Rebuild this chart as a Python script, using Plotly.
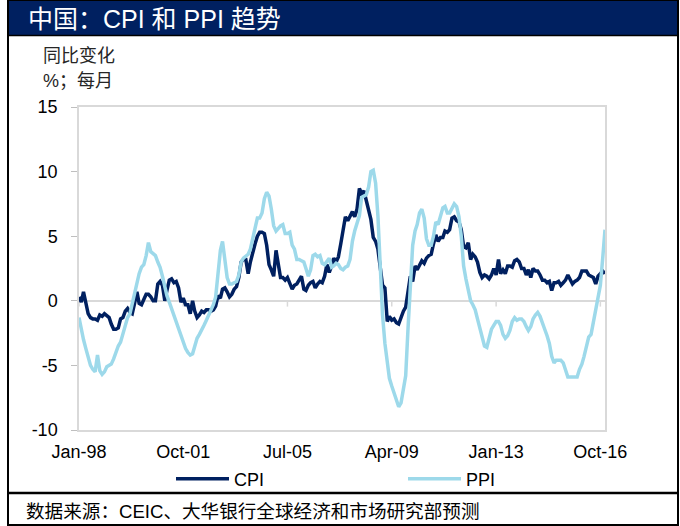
import pandas as pd
import plotly.graph_objects as go

# ---------------- data (year-on-year %, monthly, Jan-98 .. Dec-16) ----------------
months = pd.date_range("1998-01-01", "2016-12-01", freq="MS")

cpi = [
    0.3, -0.1, 0.7, -0.3, -1.0, -1.3, -1.4, -1.4, -1.5, -1.1, -1.2, -1.0,   # 1998
    -1.2, -1.3, -1.8, -2.2, -2.2, -2.1, -1.4, -1.3, -0.8, -0.6, -0.9, -1.0,  # 1999
    -0.2, 0.7, -0.2, -0.3, 0.1, 0.5, 0.5, 0.3, 0.0, 0.0, 1.3, 1.5,          # 2000
    1.2, 0.0, 0.8, 1.6, 1.7, 1.4, 1.5, 1.0, -0.1, 0.2, -0.3, -0.3,          # 2001
    -1.0, 0.0, -0.8, -1.3, -1.1, -0.8, -0.9, -0.7, -0.7, -0.8, -0.7, -0.4,  # 2002
    0.4, 0.2, 0.9, 1.0, 0.7, 0.3, 0.5, 0.9, 1.1, 1.8, 3.0, 3.2,             # 2003
    3.2, 2.1, 3.0, 3.8, 4.4, 5.0, 5.3, 5.3, 5.2, 4.3, 2.8, 2.4,             # 2004
    1.9, 3.9, 2.7, 1.8, 1.8, 1.6, 1.8, 1.3, 0.9, 1.2, 1.3, 1.6,             # 2005
    1.9, 0.9, 0.8, 1.2, 1.4, 1.5, 1.0, 1.3, 1.5, 1.4, 1.9, 2.8,             # 2006
    2.2, 2.7, 3.3, 3.0, 3.4, 4.4, 5.6, 6.5, 6.2, 6.5, 6.9, 6.5,             # 2007
    7.1, 8.7, 8.3, 8.5, 7.7, 7.1, 6.3, 4.9, 4.6, 4.0, 2.4, 1.2,             # 2008
    1.0, -1.6, -1.2, -1.5, -1.4, -1.7, -1.8, -1.2, -0.8, -0.5, 0.6, 1.9,    # 2009
    1.5, 2.7, 2.4, 2.8, 3.1, 2.9, 3.3, 3.5, 3.6, 4.4, 5.1, 4.6,             # 2010
    4.9, 4.9, 5.4, 5.3, 5.5, 6.4, 6.5, 6.2, 6.1, 5.5, 4.2, 4.1,             # 2011
    4.5, 3.2, 3.6, 3.4, 3.0, 2.2, 1.8, 2.0, 1.9, 1.7, 2.0, 2.5,             # 2012
    2.0, 3.2, 2.1, 2.4, 2.1, 2.7, 2.7, 2.6, 3.1, 3.2, 3.0, 2.5,             # 2013
    2.5, 2.0, 2.4, 1.8, 2.5, 2.3, 2.3, 2.0, 1.6, 1.6, 1.4, 1.5,             # 2014
    0.8, 1.4, 1.4, 1.5, 1.2, 1.4, 1.6, 2.0, 1.6, 1.3, 1.5, 1.6,             # 2015
    1.8, 2.3, 2.3, 2.3, 2.0, 1.9, 1.8, 1.3, 1.9, 2.1, 2.3, 2.1,             # 2016
]

ppi = [
    -1.3, -2.3, -3.0, -3.7, -4.4, -5.0, -5.3, -5.5, -4.2, -5.4, -5.7, -5.5,  # 1998
    -5.1, -5.0, -4.9, -4.5, -3.9, -3.5, -3.2, -2.5, -1.8, -1.3, -1.0, -0.2,  # 1999
    0.5, 1.3, 2.1, 2.6, 2.8, 3.5, 4.5, 3.8, 3.6, 3.5, 3.0, 2.6,             # 2000
    1.9, 1.0, 0.4, -0.1, -0.6, -1.1, -1.6, -2.2, -2.8, -3.3, -3.7, -4.0,    # 2001
    -4.2, -4.1, -3.6, -2.9, -2.6, -2.3, -1.9, -1.5, -1.1, -0.7, -0.3, 0.3,  # 2002
    2.4, 3.9, 4.6, 3.3, 1.8, 1.3, 1.3, 1.4, 1.5, 2.0, 3.0, 3.3,             # 2003
    3.5, 3.6, 4.0, 5.0, 5.6, 6.4, 6.4, 6.8, 7.9, 8.4, 8.1, 7.1,             # 2004
    5.8, 5.4, 5.6, 5.8, 5.9, 5.2, 5.2, 5.3, 4.3, 4.0, 3.2, 3.2,             # 2005
    3.1, 3.0, 2.5, 1.9, 2.4, 3.5, 3.6, 3.4, 3.5, 2.9, 2.8, 3.1,             # 2006
    3.3, 2.6, 2.7, 2.9, 2.8, 2.5, 2.4, 2.6, 2.7, 3.2, 4.6, 5.4,             # 2007
    6.1, 6.6, 8.0, 8.1, 8.2, 8.8, 10.0, 10.1, 9.1, 6.6, 2.0, -1.1,          # 2008
    -3.3, -4.5, -6.0, -6.6, -7.2, -7.8, -8.2, -7.9, -7.0, -5.8, -2.1, 1.7,  # 2009
    4.3, 5.4, 5.9, 6.8, 7.1, 6.4, 4.8, 4.3, 4.3, 5.0, 6.1, 5.9,             # 2010
    6.6, 7.2, 7.3, 6.8, 6.8, 7.1, 7.5, 7.3, 6.5, 5.0, 2.7, 1.7,             # 2011
    0.7, 0.0, -0.3, -0.7, -1.4, -2.1, -2.9, -3.5, -3.6, -2.8, -2.2, -1.9,   # 2012
    -1.6, -1.6, -1.9, -2.6, -2.9, -2.7, -2.3, -1.6, -1.3, -1.5, -1.4, -1.4, # 2013
    -1.6, -2.0, -2.3, -2.0, -1.4, -1.1, -0.9, -1.2, -1.8, -2.2, -2.7, -3.3, # 2014
    -4.3, -4.8, -4.6, -4.6, -4.6, -4.8, -5.4, -5.9, -5.9, -5.9, -5.9, -5.9, # 2015
    -5.3, -4.9, -4.3, -3.4, -2.8, -2.6, -1.7, -0.8, 0.1, 1.2, 3.3, 5.5,     # 2016
]

tick_dates = ["1998-01-01", "2001-10-01", "2005-07-01", "2009-04-01", "2013-01-01", "2016-10-01"]
tick_labels = ["Jan-98", "Oct-01", "Jul-05", "Apr-09", "Jan-13", "Oct-16"]
y_ticks = [-10, -5, 0, 5, 10, 15]
y_tick_labels = ["-10", "-5", "0", "5", "10", "15"]

title_text = "中国：CPI 和 PPI 趋势"
unit_line1 = "同比变化"
unit_line2 = "%；每月"
source_text = "数据来源：CEIC、大华银行全球经济和市场研究部预测"

# ---------------- layout geometry ----------------
W, H = 680, 526
PL, PR, PT, PB = 79, 605, 107, 430  # plot area in pixels


def fx(px):
    return (px - PL) / (PR - PL)


def fy(py):
    return (PB - py) / (PB - PT)


FONT = "Liberation Sans, Arial, Noto Sans CJK SC, sans-serif"
NAVY = "#002060"
LIGHT = "#9DD9EA"
GRID = "#D9D9D9"

fig = go.Figure()
fig.add_trace(go.Scatter(x=months, y=cpi, name="CPI", mode="lines",
                         line=dict(color=NAVY, width=3.5)))
fig.add_trace(go.Scatter(x=months, y=ppi, name="PPI", mode="lines",
                         line=dict(color=LIGHT, width=3.5)))

shapes = []
# small tick marks on the zero line at the labelled dates
for d in tick_dates:
    shapes.append(dict(type="line", xref="x", yref="y", x0=d, x1=d, y0=0, y1=-0.45,
                       line=dict(color=GRID, width=1.5), layer="below"))
# title bar
shapes.append(dict(type="rect", xref="paper", yref="paper",
                   x0=fx(8), x1=fx(678), y0=fy(35), y1=fy(0),
                   fillcolor=NAVY, line=dict(width=0), layer="above"))
shapes.append(dict(type="line", xref="paper", yref="paper",
                   x0=fx(8), x1=fx(678), y0=fy(35.5), y1=fy(35.5),
                   line=dict(color="#000000", width=1.5)))
# outer frame
shapes.append(dict(type="rect", xref="paper", yref="paper",
                   x0=fx(8), x1=fx(678), y0=fy(525), y1=fy(0),
                   line=dict(color="#000000", width=2)))
# footer separator
shapes.append(dict(type="line", xref="paper", yref="paper",
                   x0=fx(8), x1=fx(678), y0=fy(493), y1=fy(493),
                   line=dict(color="#000000", width=2.5)))

annotations = [
    dict(text=title_text, xref="paper", yref="paper", x=fx(26), y=fy(19),
         xanchor="left", yanchor="middle", showarrow=False,
         font=dict(family=FONT, size=25, color="#FFFFFF")),
    dict(text=unit_line1, xref="paper", yref="paper", x=fx(41), y=fy(56),
         xanchor="left", yanchor="middle", showarrow=False,
         font=dict(family=FONT, size=18, color="#262626")),
    dict(text=unit_line2, xref="paper", yref="paper", x=fx(41), y=fy(81),
         xanchor="left", yanchor="middle", showarrow=False,
         font=dict(family=FONT, size=18, color="#262626")),
    dict(text=source_text, xref="paper", yref="paper", x=fx(24), y=fy(511),
         xanchor="left", yanchor="middle", showarrow=False,
         font=dict(family=FONT, size=18.6, color="#000000")),
]

fig.update_layout(
    width=W, height=H,
    margin=dict(l=PL, r=W - PR, t=PT, b=H - PB, pad=0),
    paper_bgcolor="#FFFFFF", plot_bgcolor="#FFFFFF",
    font=dict(family=FONT, size=18, color="#000000"),
    showlegend=True,
    legend=dict(orientation="h", x=fx(171), y=fy(479), xanchor="left", yanchor="middle",
                entrywidth=164, entrywidthmode="pixels", itemwidth=53,
                font=dict(family=FONT, size=18, color="#000000"),
                bgcolor="rgba(0,0,0,0)", borderwidth=0, tracegroupgap=0),
    shapes=shapes,
    annotations=annotations,
    xaxis=dict(type="date", range=[months[0], months[-1]],
               tickmode="array", tickvals=tick_dates, ticktext=tick_labels,
               showgrid=False, zeroline=False, showline=True, mirror=True,
               linecolor=GRID, linewidth=1.5, ticks="", ticklabelstandoff=5,
               tickfont=dict(family=FONT, size=18, color="#000000")),
    yaxis=dict(range=[-10, 15], tickmode="array", tickvals=y_ticks, ticktext=y_tick_labels,
               showgrid=False, zeroline=True, zerolinecolor=GRID, zerolinewidth=1.5,
               showline=True, mirror=True, linecolor=GRID, linewidth=1.5,
               ticks="outside", ticklen=6, tickcolor="#BFBFBF", tickwidth=1,
               ticklabelstandoff=10,
               tickfont=dict(family=FONT, size=18, color="#000000")),
)

fig.write_html("out.html", config={"displayModeBar": False},
               post_script="document.body.style.margin='0';")
